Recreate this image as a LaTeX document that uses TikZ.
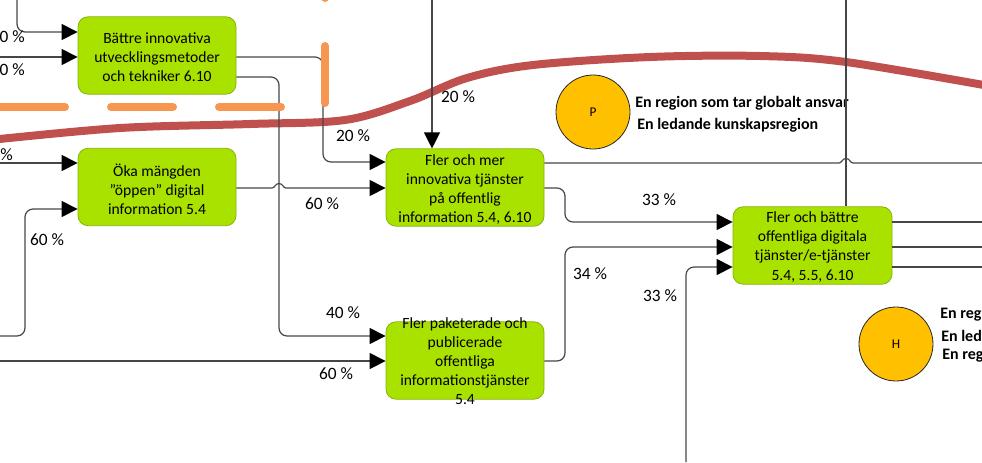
\documentclass[tikz,border=0pt]{standalone}
\usepackage{fontspec}
\setmainfont{Carlito}
\usetikzlibrary{arrows.meta}
\definecolor{boxfill}{RGB}{170,226,0}
\definecolor{boxdraw}{RGB}{130,180,10}
\definecolor{redline}{RGB}{192,80,77}
\definecolor{orangeline}{RGB}{246,150,80}
\definecolor{circfill}{RGB}{255,192,0}
\definecolor{connc}{RGB}{70,70,70}
\begin{document}
\begin{tikzpicture}[x=0.75pt,y=-0.75pt,
 boxshape/.style={draw=boxdraw, fill=boxfill, rounded corners=7.5pt, minimum width=118.5pt, minimum height=58pt, inner sep=0pt, line width=0.6pt},
 boxtext/.style={align=center, font=\fontsize{11.7}{14.3}\selectfont, inner sep=0pt},
 conn/.style={draw=connc, line width=0.9pt, rounded corners=6pt},
 arr/.style={conn, -{Triangle[length=12pt,width=12pt,color=black]}},
 pct/.style={font=\fontsize{13}{15}\selectfont, inner sep=0pt},
 goal/.style={circle, draw=black!85, fill=circfill, minimum size=55.5pt, inner sep=0pt, font=\fontsize{10}{11}\selectfont, line width=0.6pt},
 goaltext/.style={font=\bfseries\fontsize{12}{14}\selectfont, anchor=west, inner sep=0pt},
 redband/.style={draw=redline, line width=6pt},
 orangedash/.style={draw=orangeline, line width=6pt, line cap=round}]
\useasboundingbox (0,0) rectangle (982,462);
\clip (0,0) rectangle (982,462);

% red band
\draw[redband] plot[smooth, tension=0.55] coordinates {(-10,140) (120,128) (250,124) (345,120) (410,101) (467,78) (533,65) (650,57) (760,56) (846,62) (995,87)};

% boxes
\node[boxshape] (A) at (157,55.5) {};
\node[boxtext] (At) at (157,57) {Bättre innovativa\\utvecklingsmetoder\\och tekniker 6.10};
\node[boxshape] (B) at (157,187) {};
\node[boxtext] (Bt) at (157,189) {Öka mängden\\”öppen” digital\\information 5.4};
\node[boxshape] (C) at (465,187.5) {};
\node[boxtext] (Ct) at (465,189.5) {Fler och mer\\innovativa tjänster\\på offentlig\\information 5.4, 6.10};
\node[boxshape] (D) at (465,360.5) {};
\node[boxtext] (Dt) at (465,361.5) {Fler paketerade och\\publicerade\\offentliga\\informationstjänster\\5.4};
\node[boxshape, minimum width=119.25pt] (E) at (812.5,245.5) {};
\node[boxtext] (Et) at (812.5,247) {Fler och bättre\\offentliga digitala\\tjänster/e-tjänster\\5.4, 5.5, 6.10};

% goal circles
\node[goal] (P) at (593,112) {P};
\node[goaltext] (P1) at (635,103) {En region som tar globalt ansvar};
\node[goaltext] (P2) at (637,125) {En ledande kunskapsregion};
\node[goal] (H) at (896,344) {H};
\node[goaltext] (H1) at (940,315) {En reg};
\node[goaltext] (H2) at (941,336) {En led};
\node[goaltext] (H3) at (942,356) {En reg};

% free ends
\coordinate (inA1) at (17,0);
\coordinate (inA2) at (0,57);
\coordinate (inB1) at (0,163);
\coordinate (inB2) at (0,336);
\coordinate (inD2) at (0,361);
\coordinate (inC) at (432,0);
\coordinate (inE) at (686,462);
\coordinate (topE) at (846,0);
\coordinate (outC) at (982,163);
\coordinate (outE1) at (982,222);
\coordinate (outE2) at (982,247);
\coordinate (outE3) at (982,267);

% connectors
\draw[arr] (inA1) |- (A.west |- 0,32);
\draw[arr] (inA2) -- (A.west |- 0,57);
\draw[arr] (inB1) -- (B.west |- 0,163);
\draw[arr] (inB2) -- (25,336) -- (25,209) -- (B.west |- 0,209);
\draw[arr] (inD2) -- (D.west |- 0,361);
\draw[arr] (A.east |- 0,57) -- (323,57) -- (323,162) -- (C.west |- 0,162);
\draw[arr] (A.east |- 0,77) -- (279,77) -- (279,336) -- (D.west |- 0,336);
\draw[arr, sharp corners] (B.east |- 0,188) -- (272,188) .. controls (275,188) and (275,183.5) .. (279,183.5) .. controls (283,183.5) and (283,188) .. (286,188) -- (C.west |- 0,188);
\draw[arr] (inC) -- (inC |- C.north);
\draw[arr] (C.east |- 0,188) -- (565,188) -- (565,222) -- (E.west |- 0,222);
\draw[arr] (D.east |- 0,361) -- (565,361) -- (565,247) -- (E.west |- 0,247);
\draw[arr] (inE) |- (E.west |- 0,267);
\draw[conn, sharp corners] (C.east |- 0,163) -- (839,163) .. controls (842,163) and (842,158.5) .. (846,158.5) .. controls (850,158.5) and (850,163) .. (853,163) -- (outC);
\draw[conn] (topE) -- (topE |- E.north);
\draw[conn] (E.east |- 0,222) -- (outE1);
\draw[conn] (E.east |- 0,247) -- (outE2);
\draw[conn] (E.east |- 0,267) -- (outE3);

% orange dashed boundary
\draw[orangedash] (-10,107) -- (65,107);
\draw[orangedash] (111,107) -- (173,107);
\draw[orangedash] (219,107) -- (281,107);
\draw[orangedash] (325,-30) -- (325,-2);
\draw[orangedash] (325,46) -- (325,103);

% labels
\node[pct, anchor=east] (l1) at (25,37) {0 \%};
\node[pct, anchor=east] (l2) at (25,70) {0 \%};
\node[pct, anchor=east] (l3) at (13,155) {\%};
\node[pct] (l4) at (47,240) {60 \%};
\node[pct] (l5) at (322,204) {60 \%};
\node[pct] (l6) at (353,136) {20 \%};
\node[pct] (l7) at (343,313) {40 \%};
\node[pct] (l8) at (336,374) {60 \%};
\node[pct] (l9) at (458,97) {20 \%};
\node[pct] (l10) at (659,200) {33 \%};
\node[pct] (l11) at (590,274) {34 \%};
\node[pct] (l12) at (660,296) {33 \%};
\end{tikzpicture}
\end{document}
